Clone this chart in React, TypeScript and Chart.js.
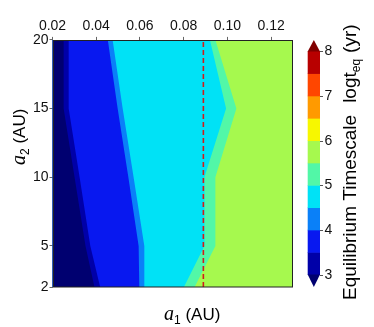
import React, { useEffect, useRef } from "react";
import { Chart, registerables } from "chart.js";

Chart.register(...registerables);

// ---- data ----
const yNodes = [2, 5, 10, 15, 20];
// x position (a1) of each contour edge at the y nodes (a2 = 2, 5, 10, 15, 20)
const edge30 = [0.0392, 0.0351, 0.0301, 0.0251, 0.0251];
const edge35 = [0.0418, 0.0373, 0.0324, 0.0274, 0.0274];
const edge40 = [0.0597, 0.0594, 0.0547, 0.0498, 0.0453];
const edge45 = [0.0623, 0.062, 0.0571, 0.0521, 0.0475];
const edge50 = [0.0801, 0.0895, 0.0895, 0.0994, 0.092];
const edge55 = [0.085, 0.0945, 0.0945, 0.1041, 0.0945];

const xRange = [0.02, 0.13];
const yRange = [2, 20];
const xTicks = [0.02, 0.04, 0.06, 0.08, 0.1, 0.12];
const yTicks = [2, 5, 10, 15, 20];
const cbLevels = [3, 3.5, 4, 4.5, 5, 5.5, 6, 6.5, 7, 7.5, 8];
const cbColors = [
  "#0000a8", "#0818f0", "#0a80f8", "#00e2f6", "#52f7a7",
  "#a6f94e", "#f7f700", "#ff9a00", "#ff4600", "#b80000",
];
const underColor = "#000070";
const overColor = "#800000";
const cbTicks = [3, 4, 5, 6, 7, 8];
const a1Marker = 0.089;

const SANS = '"Liberation Sans", Arial, sans-serif';
const SERIF = '"Liberation Serif", "Times New Roman", serif';

type Run = { text?: string; font?: string; dy?: number; gap?: number };

function drawRuns(ctx: CanvasRenderingContext2D, runs: Run[], x: number, y: number, angle: number) {
  ctx.save();
  ctx.translate(x, y);
  ctx.rotate(angle);
  ctx.textAlign = "left";
  ctx.textBaseline = "alphabetic";
  ctx.fillStyle = "#000";
  let cx = 0;
  for (const r of runs) {
    if (r.gap) {
      cx += r.gap;
      continue;
    }
    ctx.font = r.font as string;
    ctx.fillText(r.text as string, cx, r.dy || 0);
    cx += ctx.measureText(r.text as string).width;
  }
  ctx.restore();
}

const decorPlugin = {
  id: "decor",
  afterDraw(chart: any) {
    const ctx: CanvasRenderingContext2D = chart.ctx;
    const { left, right, top, bottom } = chart.chartArea;
    ctx.save();
    // frame
    ctx.strokeStyle = "#222";
    ctx.lineWidth = 1;
    ctx.strokeRect(Math.round(left) + 0.5, Math.round(top) + 0.5, Math.round(right) - Math.round(left) - 1, Math.round(bottom) - Math.round(top) - 0.5);

    // colorbar
    const cb = chart.scales.cb;
    const x0 = right + 14.7;
    const x1 = x0 + 12.3;
    for (let i = 0; i < cbColors.length; i++) {
      const ya = cb.getPixelForValue(cbLevels[i]);
      const yb = cb.getPixelForValue(cbLevels[i + 1]);
      ctx.fillStyle = cbColors[i];
      ctx.fillRect(x0, yb - 0.3, x1 - x0, ya - yb + 0.6);
    }
    const y3 = cb.getPixelForValue(cbLevels[0]);
    const y8 = cb.getPixelForValue(cbLevels[cbLevels.length - 1]);
    ctx.fillStyle = underColor;
    ctx.beginPath();
    ctx.moveTo(x0, y3 - 0.3);
    ctx.lineTo(x1, y3 - 0.3);
    ctx.lineTo((x0 + x1) / 2, cb.getPixelForValue(cb.min));
    ctx.closePath();
    ctx.fill();
    ctx.fillStyle = overColor;
    ctx.beginPath();
    ctx.moveTo(x0, y8 + 0.3);
    ctx.lineTo(x1, y8 + 0.3);
    ctx.lineTo((x0 + x1) / 2, cb.getPixelForValue(cb.max));
    ctx.closePath();
    ctx.fill();
    ctx.strokeStyle = "#555";
    ctx.lineWidth = 1;
    for (const t of cbTicks) {
      const py = Math.round(cb.getPixelForValue(t)) + 0.5;
      ctx.beginPath();
      ctx.moveTo(x1, py);
      ctx.lineTo(x1 + 3, py);
      ctx.stroke();
    }

    // x title
    drawRuns(ctx, [
      { text: "a", font: `italic 20px ${SERIF}` },
      { text: "1", font: `12px ${SANS}`, dy: 4 },
      { text: " (AU)", font: `17px ${SANS}` },
    ], 164, 320, 0);

    // y title
    drawRuns(ctx, [
      { text: "a", font: `italic 20px ${SERIF}` },
      { text: "2", font: `12px ${SANS}`, dy: 4 },
      { text: " (AU)", font: `17px ${SANS}` },
    ], 24.5, 165, -Math.PI / 2);

    // colorbar title
    drawRuns(ctx, [
      { text: "Equilibrium Timescale", font: `19px ${SANS}` },
      { gap: 12 },
      { text: "logt", font: `19px ${SANS}` },
      { text: "eq", font: `12px ${SANS}`, dy: 4 },
      { gap: 6 },
      { text: "(yr)", font: `19px ${SANS}` },
    ], 355.5, 300, -Math.PI / 2);

    ctx.restore();
  },
};

function polygon(edge: number[]) {
  return [
    { x: xRange[0], y: yRange[0] },
    ...edge.map((x, i) => ({ x, y: yNodes[i] })),
    { x: xRange[0], y: yRange[1] },
  ];
}

function fillDataset(data: { x: number; y: number }[], color: string) {
  return {
    data,
    backgroundColor: color,
    borderColor: "rgba(0,0,0,0)",
    borderWidth: 0,
    pointRadius: 0,
    fill: "shape",
    tension: 0,
    xAxisID: "x",
    yAxisID: "y",
  };
}

export default function App() {
  const ref = useRef<HTMLCanvasElement | null>(null);
  useEffect(() => {
    if (!ref.current) return;
    const tickFont = { family: SANS, size: 14 };
    const bgRect = [
      { x: xRange[0], y: yRange[0] },
      { x: xRange[1], y: yRange[0] },
      { x: xRange[1], y: yRange[1] },
      { x: xRange[0], y: yRange[1] },
    ];
    const chart = new Chart(ref.current, {
      type: "line",
      data: {
        datasets: [
          {
            data: [
              { x: a1Marker, y: yRange[0] },
              { x: a1Marker, y: yRange[1] },
            ],
            borderColor: "#d01c1c",
            borderWidth: 1.6,
            borderDash: [5, 3],
            pointRadius: 0,
            fill: false,
            xAxisID: "x",
            yAxisID: "y",
          } as any,
          fillDataset(polygon(edge30), underColor),
          fillDataset(polygon(edge35), cbColors[0]),
          fillDataset(polygon(edge40), cbColors[1]),
          fillDataset(polygon(edge45), cbColors[2]),
          fillDataset(polygon(edge50), cbColors[3]),
          fillDataset(polygon(edge55), cbColors[4]),
          fillDataset(bgRect, cbColors[5]),
        ],
      },
      options: {
        responsive: false,
        animation: false,
        devicePixelRatio: 1,
        events: [],
        layout: { padding: { left: 0, right: 0, top: 0, bottom: 36 } },
        plugins: {
          legend: { display: false },
          tooltip: { enabled: false },
          title: { display: false },
        },
        scales: {
          x: {
            type: "linear",
            position: "top",
            min: xRange[0],
            max: xRange[1],
            afterBuildTicks: (s: any) => {
              s.ticks = xTicks.map((v) => ({ value: v }));
            },
            afterFit: (s: any) => {
              s.height = 31;
            },
            ticks: {
              font: tickFont,
              color: "#111",
              padding: 2,
              maxRotation: 0,
              autoSkip: false,
              callback: (v: any) => Number(v).toFixed(2),
            },
            grid: { drawOnChartArea: false, tickLength: 3, color: "#666" },
            border: { display: false },
          },
          y: {
            type: "linear",
            position: "left",
            min: yRange[0],
            max: yRange[1],
            afterBuildTicks: (s: any) => {
              s.ticks = yTicks.map((v) => ({ value: v }));
            },
            afterFit: (s: any) => {
              s.width = 52.5;
            },
            ticks: { font: tickFont, color: "#111", padding: 1, autoSkip: false },
            grid: { drawOnChartArea: false, tickLength: 3, color: "#666" },
            border: { display: false },
          },
          cb: {
            type: "linear",
            axis: "y",
            position: "right",
            min: 2.7234,
            max: 8.2553,
            afterBuildTicks: (s: any) => {
              s.ticks = cbTicks.map((v) => ({ value: v }));
            },
            afterFit: (s: any) => {
              s.width = 81;
            },
            ticks: { font: tickFont, color: "#111", padding: 31.5, autoSkip: false },
            grid: { display: false, drawTicks: false },
            border: { display: false },
          },
        },
      } as any,
      plugins: [decorPlugin],
    });
    return () => chart.destroy();
  }, []);
  return (
    <div style={{ position: "fixed", left: 0, top: 0, width: 374, height: 327, background: "#fff" }}>
      <canvas ref={ref} width={374} height={327} style={{ display: "block" }} />
    </div>
  );
}
